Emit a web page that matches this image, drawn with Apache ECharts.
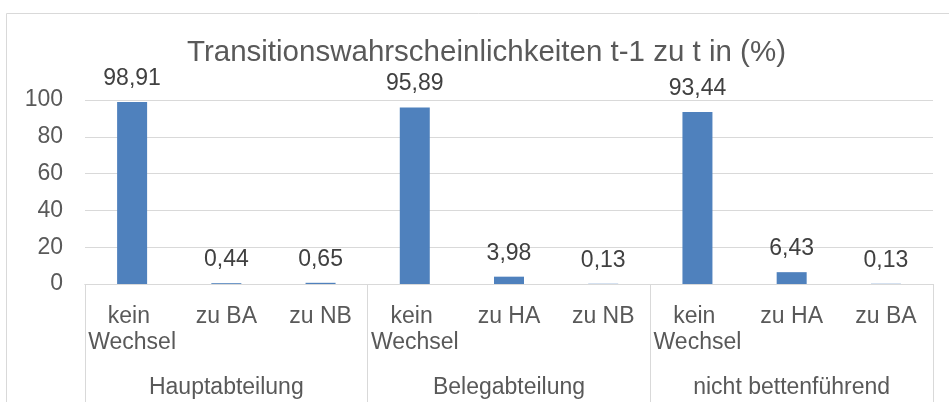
<!DOCTYPE html>
<html>
<head>
<meta charset="utf-8">
<script src="https://cdn.jsdelivr.net/npm/echarts@6/dist/echarts.min.js"></script>
<style>
  html, body { margin: 0; padding: 0; background: #fff; }
  #chart { width: 949px; height: 402px; }
</style>
</head>
<body>
<div id="chart"></div>
<script>
// Werte aus der Vorlage
const categories = ['kein Wechsel', 'zu BA', 'zu NB', 'kein Wechsel', 'zu HA', 'zu NB', 'kein Wechsel', 'zu HA', 'zu BA'];
const groups = ['Hauptabteilung', 'Belegabteilung', 'nicht bettenführend'];
const values = [98.91, 0.44, 0.65, 95.89, 3.98, 0.13, 93.44, 6.43, 0.13];
const yTicks = { min: 0, max: 100, interval: 20 };

const FONT = "'Liberation Sans', Arial, sans-serif";
const GRID_COLOR = '#d9d9d9';
const TEXT_COLOR = '#595959';

let elm = document.getElementById('chart');
let myChart = echarts.init(elm, null, { renderer: 'canvas' });

const options = {
  animation: false,
  textStyle: { fontFamily: FONT },
  title: {
    text: 'Transitionswahrscheinlichkeiten t-1 zu t in (%)',
    left: 187,
    top: 38,
    padding: 0,
    textStyle: { fontFamily: FONT, fontSize: 29.5, fontWeight: 'normal', color: TEXT_COLOR }
  },
  graphic: [{
    type: 'rect',
    z: -1,
    shape: { x: 6.5, y: 13.5, width: 1000, height: 500 },
    style: { fill: 'none', stroke: GRID_COLOR, lineWidth: 1 }
  }],
  grid: { left: 85, right: 16, top: 100, bottom: 118 },
  xAxis: [
    {
      type: 'category',
      data: categories,
      position: 'bottom',
      axisLine: { lineStyle: { color: GRID_COLOR } },
      axisTick: { show: false },
      axisLabel: {
        interval: 0,
        margin: 20,
        fontSize: 23,
        lineHeight: 26,
        color: TEXT_COLOR,
        width: 94,
        overflow: 'break'
      }
    },
    {
      type: 'category',
      data: groups,
      position: 'bottom',
      axisLine: { show: true, lineStyle: { color: GRID_COLOR } },
      axisTick: { show: true, interval: 0, length: 120, lineStyle: { color: GRID_COLOR } },
      axisLabel: { interval: 0, margin: 91, fontSize: 23, lineHeight: 26, color: TEXT_COLOR }
    }
  ],
  yAxis: {
    type: 'value',
    min: yTicks.min,
    max: yTicks.max,
    interval: yTicks.interval,
    axisLine: { show: false },
    axisTick: { show: false },
    axisLabel: { margin: 22, fontSize: 23, color: TEXT_COLOR },
    splitLine: { lineStyle: { color: GRID_COLOR } }
  },
  series: [{
    type: 'bar',
    xAxisIndex: 0,
    data: values,
    barWidth: 30,
    itemStyle: { color: '#4f81bd' },
    label: {
      show: true,
      position: 'top',
      distance: 12,
      fontSize: 23,
      color: '#404040',
      formatter: p => p.value.toFixed(2).replace('.', ',')
    }
  }]
};

try {
  myChart.setOption(options);
} catch (e) {
  console.error('ECHARTS', e.message);
}
</script>
</body>
</html>
